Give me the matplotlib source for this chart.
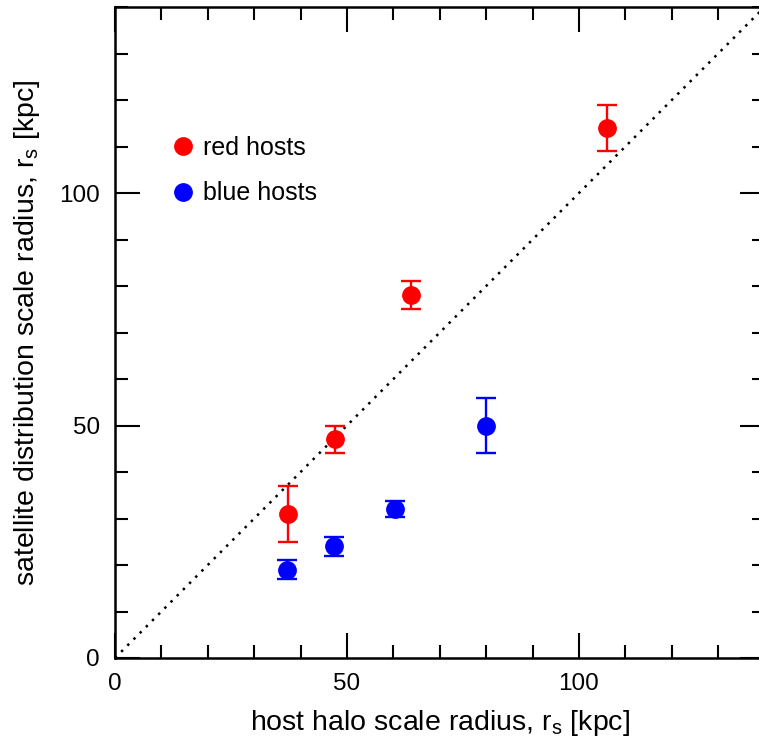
import numpy as np
import matplotlib.pyplot as plt
from matplotlib.lines import Line2D
from matplotlib.ticker import MultipleLocator

plt.rcParams['font.family'] = ['Liberation Sans', 'DejaVu Sans']
plt.rcParams['mathtext.fontset'] = 'custom'
plt.rcParams['mathtext.rm'] = 'Liberation Sans'

# red hosts
red_x = [37.2, 47.4, 63.7, 106.0]
red_y = [31.0, 47.0, 78.0, 114.0]
red_lo = [6.0, 3.0, 3.0, 5.0]
red_hi = [6.0, 3.0, 3.0, 5.0]

# blue hosts
blue_x = [37.0, 47.2, 60.3, 80.0]
blue_y = [19.0, 24.0, 32.0, 50.0]
blue_lo = [2.0, 2.0, 1.7, 6.0]
blue_hi = [2.0, 2.0, 1.7, 6.0]

fig = plt.figure(figsize=(7.59, 7.52), dpi=100)
ax = fig.add_axes([115 / 759, 94 / 752, 649.6 / 759, 651 / 752])

ax.plot([0, 140], [0, 140], color="black", ls=(0, (1, 2.5)), lw=1.8)

ax.errorbar(red_x, red_y, yerr=[red_lo, red_hi], fmt="o", color="red",
            ms=12.5, capsize=7, elinewidth=1.7, capthick=1.7)
ax.errorbar(blue_x, blue_y, yerr=[blue_lo, blue_hi], fmt="o", color="blue",
            ms=12.5, capsize=7, elinewidth=1.7, capthick=1.7)

ax.set_xlim(0, 140)
ax.set_ylim(0, 140)
for a in (ax.xaxis, ax.yaxis):
    a.set_major_locator(MultipleLocator(50))
    a.set_minor_locator(MultipleLocator(10))
ax.tick_params(which="both", direction="in", top=True, right=True,
               width=1.5, labelsize=17.5, pad=11)
ax.tick_params(which="major", length=18)
ax.tick_params(which="minor", length=9.5)
for s in ax.spines.values():
    s.set_linewidth(1.8)

ax.set_xlabel(r"host halo scale radius, r$_\mathregular{s}$ [kpc]", fontsize=20.5, labelpad=9)
ax.set_ylabel(r"satellite distribution scale radius, r$_\mathregular{s}$ [kpc]", fontsize=20.5, labelpad=12)

handles = [Line2D([], [], ls="none", marker="o", ms=12.5, color="red"),
           Line2D([], [], ls="none", marker="o", ms=12.5, color="blue")]
ax.legend(handles, ["red hosts", "blue hosts"], loc="upper left",
          bbox_to_anchor=(0.051, 0.837), frameon=False, fontsize=18,
          handlelength=1.0, handletextpad=0.3, labelspacing=0.87)

fig.savefig("out.png", dpi=100)
